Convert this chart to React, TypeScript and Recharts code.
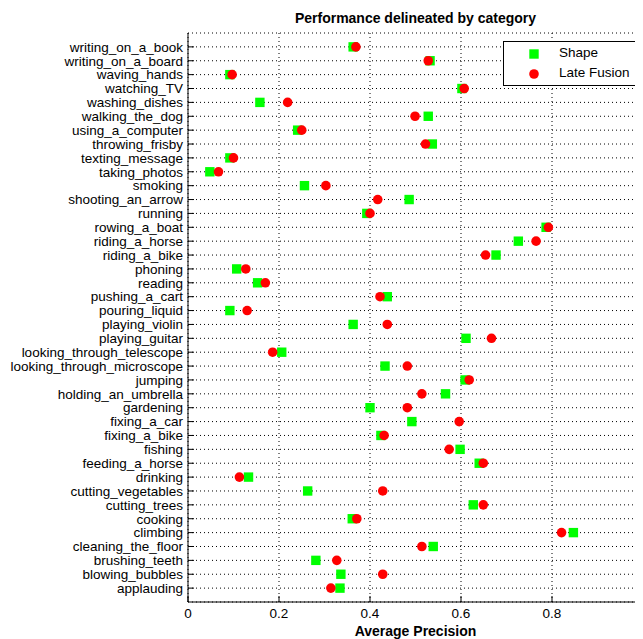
import { ScatterChart, Scatter, XAxis, YAxis, CartesianGrid } from "recharts";

// categories listed top to bottom, as on the chart
const categories = [
  "writing_on_a_book",
  "writing_on_a_board",
  "waving_hands",
  "watching_TV",
  "washing_dishes",
  "walking_the_dog",
  "using_a_computer",
  "throwing_frisby",
  "texting_message",
  "taking_photos",
  "smoking",
  "shooting_an_arrow",
  "running",
  "rowing_a_boat",
  "riding_a_horse",
  "riding_a_bike",
  "phoning",
  "reading",
  "pushing_a_cart",
  "pouring_liquid",
  "playing_violin",
  "playing_guitar",
  "looking_through_telescope",
  "looking_through_microscope",
  "jumping",
  "holding_an_umbrella",
  "gardening",
  "fixing_a_car",
  "fixing_a_bike",
  "fishing",
  "feeding_a_horse",
  "drinking",
  "cutting_vegetables",
  "cutting_trees",
  "cooking",
  "climbing",
  "cleaning_the_floor",
  "brushing_teeth",
  "blowing_bubbles",
  "applauding",
];

const shapeAP = [
  0.363, 0.532, 0.092, 0.602, 0.158, 0.528, 0.241, 0.537, 0.092, 0.048,
  0.256, 0.486, 0.393, 0.787, 0.726, 0.677, 0.107, 0.153, 0.438, 0.092,
  0.363, 0.611, 0.206, 0.433, 0.609, 0.566, 0.4, 0.492, 0.424, 0.598,
  0.64, 0.133, 0.263, 0.627, 0.361, 0.847, 0.539, 0.281, 0.336, 0.334,
];

const lateFusionAP = [
  0.369, 0.528, 0.097, 0.607, 0.219, 0.499, 0.25, 0.522, 0.1, 0.067,
  0.303, 0.417, 0.4, 0.792, 0.765, 0.654, 0.127, 0.17, 0.422, 0.13,
  0.438, 0.667, 0.186, 0.482, 0.618, 0.514, 0.482, 0.596, 0.431, 0.574,
  0.649, 0.113, 0.428, 0.649, 0.371, 0.821, 0.514, 0.327, 0.428, 0.314,
];

const xTicks = [0, 0.2, 0.4, 0.6, 0.8, 1];

const n = categories.length;
const yTicks = categories.map((_, i) => n - i);
const shapeData = shapeAP.map((v, i) => ({ x: v, y: n - i, name: categories[i] }));
const fusionData = lateFusionAP.map((v, i) => ({ x: v, y: n - i, name: categories[i] }));

const GREEN = "#00ff00";
const RED = "#ff0000";
const FONT = "'Liberation Sans', Arial, sans-serif";

// eslint-disable-next-line @typescript-eslint/no-explicit-any
const SquareDot = (props: any) => (
  <rect x={props.cx - 4.7} y={props.cy - 4.7} width={9.4} height={9.4} fill={GREEN} />
);

// eslint-disable-next-line @typescript-eslint/no-explicit-any
const RoundDot = (props: any) => <circle cx={props.cx} cy={props.cy} r={4.8} fill={RED} />;

const tickStyle = { fontSize: 13.5, fill: "#000", fontFamily: FONT };

export default function App() {
  return (
    <div style={{ position: "relative", width: 635, height: 631, overflow: "hidden", fontFamily: FONT }}>
      <div
        style={{
          position: "absolute",
          left: 180,
          width: 455,
          top: 2,
          lineHeight: "16px",
          textAlign: "center",
          fontWeight: "bold",
          fontSize: 14,
          color: "#000",
        }}
      >
        Performance delineated by category
      </div>
      <ScatterChart width={650} height={631} margin={{ top: 25, right: 15, bottom: 0, left: 5 }}>
        <CartesianGrid stroke="#000" strokeDasharray="1 3" />
        <XAxis
          type="number"
          dataKey="x"
          domain={[0, 1]}
          ticks={xTicks}
          height={37}
          stroke="#000"
          tickSize={-6}
          tickMargin={12}
          tick={tickStyle}
          interval={0}
          label={{
            value: "Average Precision",
            position: "insideBottom",
            offset: 3.5,
            style: { fontSize: 14, fontWeight: "bold", fill: "#000", fontFamily: FONT },
          }}
        />
        <XAxis
          xAxisId="top"
          orientation="top"
          type="number"
          domain={[0, 1]}
          ticks={xTicks}
          height={0}
          stroke="#000"
          tickSize={-6}
          tick={false}
        />
        <YAxis
          type="number"
          dataKey="y"
          domain={[0, n + 1]}
          ticks={yTicks}
          interval={0}
          width={175}
          stroke="#000"
          tickSize={-6}
          tickMargin={11}
          tick={tickStyle}
          tickFormatter={(v: number) => categories[n - v]}
        />
        <YAxis
          yAxisId="right"
          orientation="right"
          type="number"
          domain={[0, n + 1]}
          ticks={yTicks}
          width={0}
          stroke="#000"
          tickSize={-6}
          tick={false}
        />
        <Scatter name="Shape" data={shapeData} shape={SquareDot} isAnimationActive={false} />
        <Scatter name="Late Fusion" data={fusionData} shape={RoundDot} isAnimationActive={false} />
      </ScatterChart>
      <div
        style={{
          position: "absolute",
          left: 495,
          top: 33,
          width: 135,
          height: 45,
          boxSizing: "border-box",
          border: "1px solid #000",
          background: "#fff",
          fontSize: 13.5,
          color: "#000",
        }}
      >
        <svg width={20} height={40} style={{ position: "absolute", left: 20, top: 1 }}>
          <rect x={5.3} y={6.3} width={9.4} height={9.4} fill={GREEN} />
          <circle cx={10} cy={31} r={4.8} fill={RED} />
        </svg>
        <div style={{ position: "absolute", left: 55, top: 3, lineHeight: "16px" }}>Shape</div>
        <div style={{ position: "absolute", left: 55, top: 23, lineHeight: "16px" }}>Late Fusion</div>
      </div>
    </div>
  );
}
